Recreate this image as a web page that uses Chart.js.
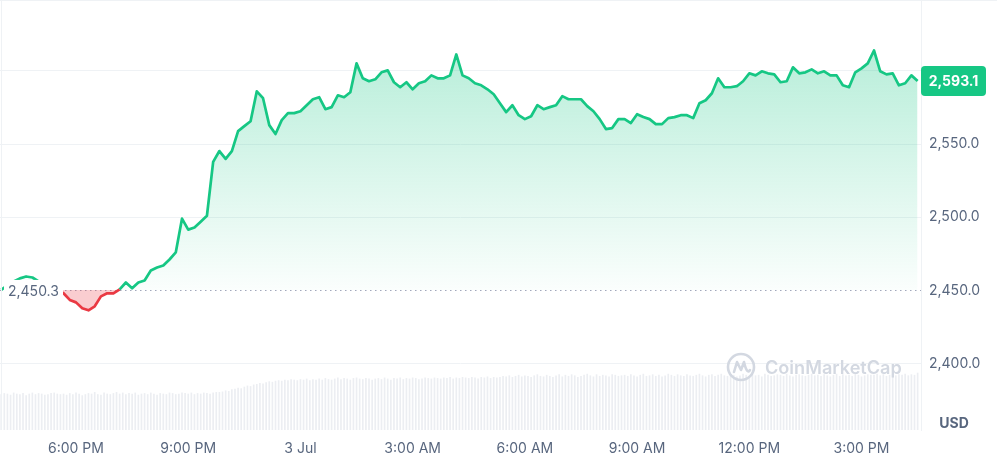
<!DOCTYPE html>
<html><head><meta charset="utf-8">
<script src="https://cdn.jsdelivr.net/npm/chart.js@4.4.1/dist/chart.umd.min.js"></script>
<style>html,body{margin:0;padding:0;background:#fff;}canvas{display:block}</style>
</head><body>
<canvas id="c" width="997" height="457"></canvas>
<script>
// ---- data ----
const startHour = 16;          // 2 Jul, 4:00 PM (hours since 2 Jul 00:00)
const priceStepMin = 10;
const volumeStepMin = 5;
const openPrice = 2450.3;
const lastPrice = 2593.1;

const prices = [
 2450.3,2453.4,2456.1,2458.2,2459.5,2458.8,2456.1,2453.4,2451.4,2450.0,
 2448.0,2443.5,2441.8,2437.8,2436.4,2439.1,2445.9,2448.0,2448.0,2450.7,
 2455.4,2451.4,2455.4,2456.8,2463.6,2465.6,2467.0,2471.1,2475.9,2499.0,
 2491.5,2492.9,2496.9,2501.0,2537.8,2545.2,2539.8,2545.2,2558.8,2562.2,
 2565.6,2586.0,2581.3,2562.9,2556.8,2566.3,2571.1,2571.1,2572.4,2576.5,
 2580.6,2582.0,2573.8,2575.2,2583.3,2582.0,2585.4,2605.1,2594.9,2592.9,
 2594.2,2599.0,2600.3,2592.2,2588.8,2592.2,2587.4,2591.5,2592.9,2596.9,
 2594.9,2594.9,2596.9,2611.2,2596.9,2594.9,2591.5,2590.1,2587.4,2584.0,
 2577.9,2571.8,2576.5,2569.7,2567.0,2569.0,2576.5,2573.8,2575.2,2576.5,
 2582.7,2580.6,2580.6,2580.6,2575.9,2572.4,2567.0,2560.2,2560.9,2567.0,
 2567.0,2564.3,2570.4,2568.4,2567.0,2563.6,2563.6,2567.7,2568.4,2569.7,
 2569.7,2567.7,2577.9,2579.9,2584.7,2594.9,2588.8,2588.8,2589.5,2592.9,
 2598.3,2596.9,2599.7,2598.3,2597.6,2592.2,2592.9,2602.4,2598.3,2599.0,
 2601.0,2598.3,2599.7,2596.9,2596.9,2590.1,2588.8,2599.0,2601.7,2605.1,
 2613.9,2599.7,2597.6,2598.3,2590.1,2591.5,2596.9,2593.1
];

const volumes = [
 66,68,67,65,69,67,66,68,64,67,69,66,68,67,65,66,68,69,67,66,
 67,65,68,66,69,67,64,66,68,67,70,66,65,69,67,66,68,70,67,69,
 66,68,67,69,65,67,68,66,69,67,65,68,67,66,69,68,66,67,69,68,
 67,69,66,68,67,69,68,67,69,70,70,71,73,72,75,76,78,77,80,82,
 81,84,85,87,86,88,90,89,91,92,91,93,92,94,93,92,94,93,95,92,
 94,93,95,93,96,94,93,95,97,94,96,95,93,96,97,95,94,96,95,93,
 95,96,94,97,95,93,96,95,97,94,96,95,97,96,94,95,97,96,95,97,
 96,95,97,96,98,95,97,96,98,97,96,98,97,95,98,97,99,96,98,97,
 98,100,99,101,98,100,102,99,101,100,98,101,103,100,99,102,100,98,101,103,
 99,102,100,103,101,98,100,102,104,101,99,103,100,102,101,99,103,102,100,101,
 102,100,103,101,99,102,104,100,101,103,100,102,99,101,104,102,100,103,101,100,
 103,101,100,102,104,101,99,102,103,100,102,104,101,100,103,102,99,101,104,102,
 100,103,101,102,99,104,102,100,101,103,102,100,104,101,99,102,103,101,100,102,
 104,101,102,100,103,101,99,102,104,100,103,101,102,100,104,102,99,101,103,102,
 102,104,101,103,100,102,104,101,103,102,104,101,103,102,106
];

const xTickHours = [18,21,24,27,30,33,36,39];
const xTickLabels = ['6:00 PM','9:00 PM','3 Jul','3:00 AM','6:00 AM','9:00 AM','12:00 PM','3:00 PM'];
const yTicks = [2400,2450,2500,2550,2600];
const xRange = [15.968, 40.59];
const yRange = [2354.6, 2648.4];
const volumeMax = 800;

// ---- build ----
const pricePts = prices.map((v,i)=>({x: startHour + i*priceStepMin/60, y: v}));
const volumePts = volumes.map((v,i)=>({x: startHour + i*volumeStepMin/60, y: v}));

const GREEN='#16c784', RED='#ea3943', GRID='#eff2f5', TEXT='#58667e';
const FONT='Inter, "Noto Sans", sans-serif';
const fmt = v => Number(v).toLocaleString('en-US',{minimumFractionDigits:1,maximumFractionDigits:1});

function roundRect(ctx,x,y,w,h,r){
  ctx.beginPath();
  ctx.moveTo(x+r,y);ctx.lineTo(x+w-r,y);ctx.quadraticCurveTo(x+w,y,x+w,y+r);
  ctx.lineTo(x+w,y+h-r);ctx.quadraticCurveTo(x+w,y+h,x+w-r,y+h);
  ctx.lineTo(x+r,y+h);ctx.quadraticCurveTo(x,y+h,x,y+h-r);
  ctx.lineTo(x,y+r);ctx.quadraticCurveTo(x,y,x+r,y);ctx.closePath();
}
function noPad(s){ s.paddingTop=0; s.paddingBottom=0; s.paddingLeft=0; s.paddingRight=0; }

const overlay = {
  id:'overlay',
  beforeDatasetsDraw(chart){
    const {ctx, chartArea:a, scales:{y}} = chart;
    const by = Math.round(y.getPixelForValue(openPrice))+0.5;
    ctx.save();
    ctx.strokeStyle='#a1a7bb'; ctx.lineWidth=1; ctx.setLineDash([1.5,3.5]);
    ctx.beginPath(); ctx.moveTo(a.left,by); ctx.lineTo(a.right,by); ctx.stroke();
    ctx.restore();
  },
  afterDatasetsDraw(chart){
    const {ctx, chartArea:a, scales:{y}} = chart;
    ctx.save();
    // frame lines
    ctx.strokeStyle=GRID; ctx.lineWidth=1;
    ctx.beginPath(); ctx.moveTo(0,0.5); ctx.lineTo(chart.width,0.5); ctx.stroke();
    ctx.beginPath(); ctx.moveTo(1.5,0); ctx.lineTo(1.5,a.bottom); ctx.stroke();
    // open price label
    const by = y.getPixelForValue(openPrice);
    ctx.fillStyle='#fff'; ctx.fillRect(4, by-10, 59, 21);
    ctx.fillStyle=TEXT; ctx.font='14px '+FONT; ctx.textBaseline='middle'; ctx.textAlign='left';
    ctx.fillText(fmt(openPrice), 8, by+2);
    // last price tag
    const ly = y.getPixelForValue(lastPrice);
    ctx.fillStyle=GREEN; roundRect(ctx, a.right, ly-15, 65, 30, 4); ctx.fill();
    ctx.fillStyle='#fff'; ctx.font='bold 14px '+FONT; ctx.textAlign='center';
    ctx.fillText(fmt(lastPrice), a.right+32.5, ly+1);
    // USD
    ctx.fillStyle=TEXT; ctx.font='bold 14px '+FONT; ctx.textAlign='center';
    ctx.fillText('USD', a.right+33, a.bottom-6);
    // watermark
    const wc = '#d3d8e1';
    const cx = a.right-180, cy = a.bottom-63;
    ctx.strokeStyle=wc; ctx.lineWidth=2.6; ctx.lineJoin='round'; ctx.lineCap='round';
    ctx.beginPath(); ctx.arc(cx,cy,13,0,Math.PI*2); ctx.stroke();
    ctx.beginPath(); ctx.moveTo(cx-7,cy+5); ctx.lineTo(cx-4,cy-5); ctx.lineTo(cx,cy+3); ctx.lineTo(cx+3,cy-5);
    ctx.quadraticCurveTo(cx+6,cy+8,cx+9,cy+3); ctx.stroke();
    ctx.fillStyle=wc; ctx.textAlign='left';
    let fs=18; ctx.font='600 '+fs+'px '+FONT;
    const w = ctx.measureText('CoinMarketCap').width; fs = fs*137/w;
    ctx.font='600 '+fs.toFixed(2)+'px '+FONT;
    ctx.fillText('CoinMarketCap', cx+24, cy+2);
    ctx.restore();
  }
};

new Chart(document.getElementById('c'), {
  type:'line',
  data:{datasets:[
    {type:'line', data:pricePts, yAxisID:'y', xAxisID:'x', order:0,
     borderColor:GREEN, borderWidth:2.7, pointRadius:0, tension:0, borderJoinStyle:'round',
     segment:{borderColor: c => (c.p0.parsed.y < openPrice || c.p1.parsed.y < openPrice) ? RED : GREEN},
     backgroundColor: c => {
       const ch=c.chart, a=ch.chartArea; if(!a||!ch.scales.y) return 'rgba(22,199,132,0.15)';
       const g=ch.ctx.createLinearGradient(0,a.top,0,ch.scales.y.getPixelForValue(openPrice));
       g.addColorStop(0,'rgba(22,199,132,0.36)'); g.addColorStop(1,'rgba(22,199,132,0.02)');
       return g;
     },
     fill:{target:{value:openPrice}, below:'rgba(234,57,67,0.25)'}},
    {type:'bar', data:volumePts, yAxisID:'yv', xAxisID:'x', order:1,
     backgroundColor:'#eceef2', barThickness:1}
  ]},
  options:{
    responsive:false, animation:false, devicePixelRatio:1,
    layout:{padding:0, autoPadding:false},
    plugins:{legend:{display:false}, tooltip:{enabled:false}},
    scales:{
      x:{type:'linear', min:xRange[0], max:xRange[1], offset:false,
         afterBuildTicks:s=>{s.ticks=xTickHours.map(v=>({value:v}));},
         afterFit:s=>{s.height=27; noPad(s);},
         ticks:{callback:v=>xTickLabels[xTickHours.indexOf(v)], font:{family:FONT,size:14}, color:TEXT, padding:10, maxRotation:0, autoSkip:false},
         grid:{display:false, drawTicks:false, offset:false}, border:{display:false}},
      y:{type:'linear', position:'right', min:yRange[0], max:yRange[1],
         afterBuildTicks:s=>{s.ticks=yTicks.map(v=>({value:v}));},
         afterFit:s=>{s.width=76; noPad(s);},
         ticks:{padding:8, callback:v=>Math.abs(v-lastPrice)<12 ? '' : fmt(v), font:{family:FONT,size:14}, color:TEXT},
         grid:{color:c=>c.tick && c.tick.value===2450 ? 'rgba(0,0,0,0)' : GRID, drawTicks:false},
         border:{display:true, color:GRID}},
      yv:{type:'linear', display:false, min:0, max:volumeMax}
    }
  },
  plugins:[overlay]
});
</script>
</body></html>
